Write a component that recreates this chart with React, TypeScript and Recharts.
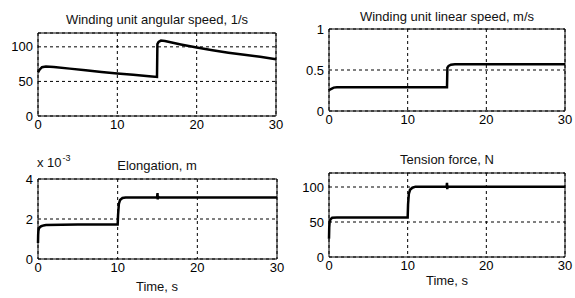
import { LineChart, Line, XAxis, YAxis, CartesianGrid, ReferenceArea } from "recharts";

const FONT = "Arial, 'Liberation Sans', sans-serif";

const timeTicks = [0, 10, 20, 30];

// Winding unit angular speed, 1/s
const angTime = [0, 0.2, 0.5, 1, 2, 4, 6, 8, 10, 12, 14, 15, 15.05, 15.2, 15.5, 16, 18, 20, 22, 24, 26, 28, 30];
const angSpeed = [63, 67, 70.5, 71.5, 71, 68.5, 66, 63.5, 61.5, 59.5, 57.5, 56.5, 104, 107, 109, 108.5, 103.5, 99, 95, 91.5, 88.5, 85.5, 82];
const angTicks = [0, 50, 100];

// Winding unit linear speed, m/s
const linTime = [0, 0.1, 0.3, 0.6, 1, 5, 10, 15, 15.05, 15.2, 15.5, 16, 20, 25, 30];
const linSpeed = [0.25, 0.26, 0.27, 0.285, 0.29, 0.29, 0.29, 0.29, 0.53, 0.55, 0.565, 0.57, 0.57, 0.57, 0.57];
const linTicks = [0, 0.5, 1];

// Elongation, m
const elTime = [0, 0.02, 0.05, 0.1, 0.2, 0.4, 0.7, 1, 5, 10, 10.05, 10.15, 10.3, 10.6, 11, 14.95, 15, 15.03, 15.08, 15.2, 20, 25, 30];
const elongation = [0.8e-3, 1.2e-3, 1.4e-3, 1.5e-3, 1.58e-3, 1.64e-3, 1.68e-3, 1.7e-3, 1.72e-3, 1.72e-3, 2.2e-3, 2.75e-3, 2.95e-3, 3.05e-3, 3.08e-3, 3.08e-3, 3.3e-3, 2.98e-3, 3.12e-3, 3.08e-3, 3.08e-3, 3.08e-3, 3.08e-3];
const elTicks = [0, 0.002, 0.004];

// Tension force, N
const tenTime = [0, 0.03, 0.08, 0.2, 0.4, 1, 5, 10, 10.05, 10.15, 10.3, 10.6, 11, 14.95, 15, 15.03, 15.08, 15.2, 20, 25, 30];
const tension = [26, 42, 50, 54, 56, 56.5, 56.5, 56.5, 75, 90, 96, 99, 100.5, 100.5, 106, 97, 101, 100.5, 100.5, 100.5, 100.5];
const tenTicks = [0, 50, 100];

const zip = (t: number[], v: number[]) => t.map((x, i) => ({ t: x, v: v[i] }));

interface PanelProps {
  left: number;
  top: number;
  width: number;
  height: number;
  margin: { top: number; right: number; bottom: number; left: number };
  data: { t: number; v: number }[];
  yMax: number;
  yTicks: number[];
  yFmt?: (v: number) => string;
}

function Panel({ left, top, width, height, margin, data, yMax, yTicks, yFmt }: PanelProps) {
  const tick = { fontSize: 13, fill: "#000", fontFamily: FONT };
  return (
    <div style={{ position: "absolute", left, top }}>
      <LineChart width={width} height={height} data={data} margin={margin}>
        <CartesianGrid stroke="#000" strokeDasharray="3 3" />
        <XAxis
          dataKey="t"
          type="number"
          domain={[0, 30]}
          ticks={timeTicks}
          axisLine={false}
          tickLine={false}
          tickSize={0}
          tickMargin={4}
          height={20}
          tick={tick}
          interval={0}
        />
        <YAxis
          type="number"
          domain={[0, yMax]}
          ticks={yTicks}
          axisLine={false}
          tickLine={false}
          tickSize={0}
          tickMargin={5}
          width={34}
          tick={tick}
          tickFormatter={yFmt}
          interval={0}
        />
        <ReferenceArea x1={0} x2={30} y1={0} y2={yMax} fill="none" stroke="#000" strokeWidth={1} />
        <Line
          dataKey="v"
          type="linear"
          stroke="#000"
          strokeWidth={2.5}
          dot={false}
          isAnimationActive={false}
        />
      </LineChart>
    </div>
  );
}

const textStyle = (cx: number, baseline: number): React.CSSProperties => ({
  position: "absolute",
  left: cx - 150,
  width: 300,
  top: baseline - 12,
  lineHeight: "15px",
  fontSize: 13,
  fontFamily: FONT,
  color: "#111",
  textAlign: "center",
  whiteSpace: "nowrap",
});

export default function App() {
  return (
    <div style={{ position: "absolute", left: 0, top: 0, width: 575, height: 298, background: "#fff", overflow: "hidden" }}>
      <div style={textStyle(157, 24)}>Winding unit angular speed, 1/s</div>
      <div style={textStyle(447, 21)}>Winding unit linear speed, m/s</div>
      <div style={textStyle(157, 170)}>Elongation, m</div>
      <div style={textStyle(447, 164)}>Tension force, N</div>
      <div style={textStyle(157, 291)}>Time, s</div>
      <div style={textStyle(447, 285)}>Time, s</div>
      <div style={{ position: "absolute", left: 37, top: 155, lineHeight: "15px", fontSize: 13, fontFamily: FONT, color: "#111" }}>
        x 10
        <span style={{ fontSize: 9, position: "relative", top: -6, marginLeft: 1 }}>-3</span>
      </div>

      <Panel
        left={0}
        top={0}
        width={290}
        height={140}
        margin={{ top: 33, right: 14, bottom: 4, left: 4 }}
        data={zip(angTime, angSpeed)}
        yMax={120}
        yTicks={angTicks}
      />
      <Panel
        left={290}
        top={0}
        width={285}
        height={140}
        margin={{ top: 29, right: 10, bottom: 9, left: 5 }}
        data={zip(linTime, linSpeed)}
        yMax={1}
        yTicks={linTicks}
      />
      <Panel
        left={0}
        top={140}
        width={290}
        height={158}
        margin={{ top: 39, right: 13, bottom: 19, left: 4 }}
        data={zip(elTime, elongation)}
        yMax={0.004}
        yTicks={elTicks}
        yFmt={(v) => String(Math.round(v * 1000))}
      />
      <Panel
        left={290}
        top={140}
        width={285}
        height={158}
        margin={{ top: 33, right: 10, bottom: 21, left: 5 }}
        data={zip(tenTime, tension)}
        yMax={120}
        yTicks={tenTicks}
      />
    </div>
  );
}
